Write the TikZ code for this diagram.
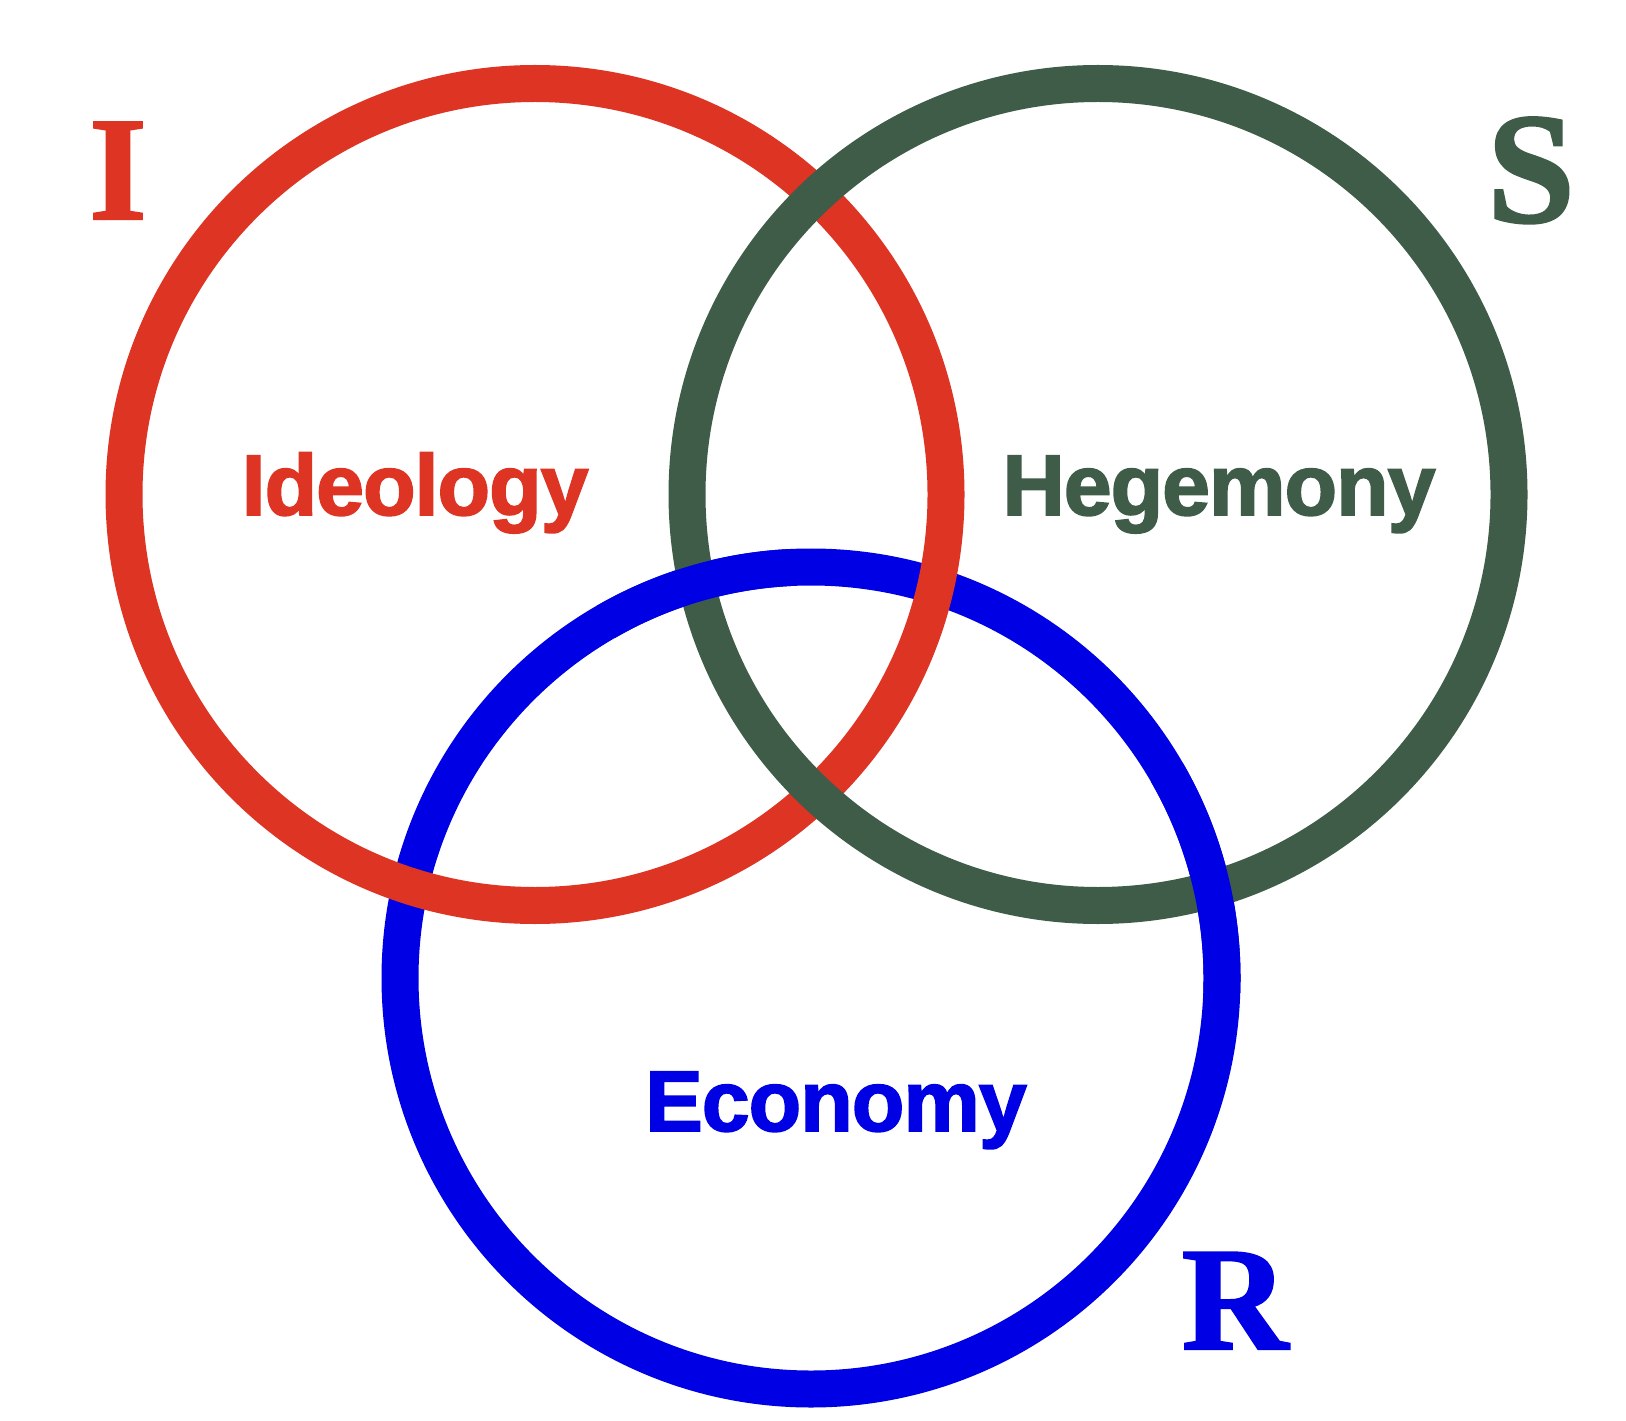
\documentclass[tikz,border=0pt]{standalone}
\usepackage{fontspec}
\setmainfont{Liberation Serif}
\newfontfamily\sansbold{Liberation Sans Bold}[FakeBold=2, LetterSpace=-1.2]
\newfontfamily\serifbold{Liberation Serif Bold}[FakeBold=1.5]
\definecolor{ringred}{RGB}{222,52,36}
\definecolor{ringgreen}{RGB}{62,92,72}
\definecolor{ringblue}{RGB}{0,0,228}
\tikzset{
  ring/.style={line width=0.37cm},
  bigword/.style={inner sep=0pt, anchor=base, font=\sansbold\fontsize{24.5pt}{28pt}\selectfont},
  letter/.style={inner sep=0pt, anchor=base, font=\serifbold\fontsize{42pt}{48pt}\selectfont}
}
\begin{document}
\begin{tikzpicture}
\useasboundingbox (0,0) rectangle (16.26,-14.21);
\fill[white] (0,0) rectangle (16.26,-14.21);
\coordinate (Rc) at (5.35,-4.945);
\coordinate (Gc) at (10.98,-4.945);
\coordinate (Bc) at (8.11,-9.78);
% draw order: blue, red, green, then blue over green at its crossings
\draw[ring, ringblue] (Bc) circle (4.11);
\draw[ring, ringred] (Rc) circle (4.11);
\draw[ring, ringgreen] (Gc) circle (4.11);
\draw[ring, ringblue] ([shift={(93:4.11)}]Bc) arc (93:120:4.11);
\draw[ring, ringblue] ([shift={(-2:4.11)}]Bc) arc (-2:30:4.11);
% labels
\node[bigword, text=ringred] (ideo) at (4.15,-5.15) {Ideology};
\node[bigword, text=ringgreen] (hege) at (12.19,-5.15) {Hegemony};
\node[bigword, text=ringblue] (econ) at (8.36,-11.31) {Economy};
\node[letter, text=ringred] (I) at (1.18,-2.19) {I};
\node[letter, text=ringgreen, font=\serifbold\fontsize{45pt}{50pt}\selectfont] (S) at (15.31,-2.22) {S};
\node[letter, text=ringblue] (R) at (12.35,-13.49) {R};
\end{tikzpicture}
\end{document}
